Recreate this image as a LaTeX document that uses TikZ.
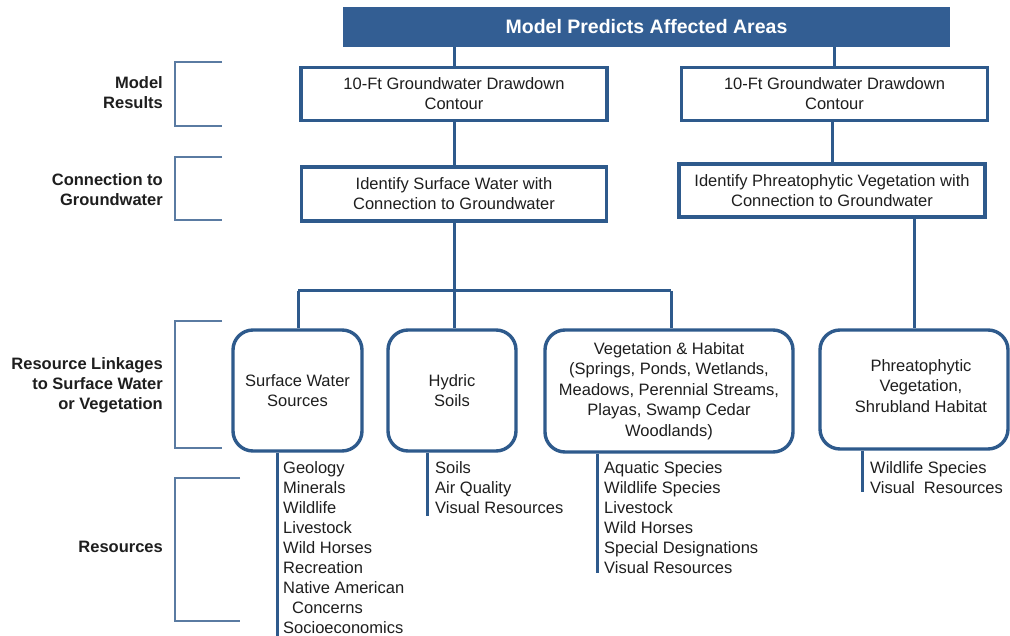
\documentclass[tikz,border=0pt]{standalone}
\usepackage{fontspec}
\setmainfont{Liberation Sans}
\definecolor{linec}{HTML}{2E5A8C}
\definecolor{bannerc}{HTML}{335E93}
\definecolor{brackc}{HTML}{5A7BA2}
\definecolor{txtc}{HTML}{1E1E1E}
\tikzset{
  conn/.style={draw=linec, line width=3pt},
  sqbox/.style={draw=linec, line width=3.4pt, fill=white, rectangle, inner sep=0pt, align=center,
    text=txtc, font=\fontsize{16.5}{20}\selectfont},
  rbox/.style={draw=linec, line width=3.4pt, fill=white, rectangle, rounded corners=20pt, inner sep=0pt,
    align=center, text=txtc, font=\fontsize{16.5}{20.5}\selectfont},
  bracketline/.style={draw=brackc, line width=1.8pt},
  sidelabel/.style={anchor=east, align=right, inner sep=0pt, text=txtc,
    font=\bfseries\fontsize{16.5}{20}\selectfont},
  listtext/.style={anchor=base west, align=left, inner sep=0pt, text=txtc,
    font=\fontsize{16.5}{20}\selectfont},
  boxtext/.style={align=center, inner sep=0pt, text=txtc, font=\fontsize{16.5}{20.5}\selectfont}
}
\begin{document}
\begin{tikzpicture}[x=1pt,y=-1pt]
\useasboundingbox (0,0) rectangle (1010,636);
\fill[white] (0,0) rectangle (1010,636);

% side brackets
\draw[bracketline] (222,62) -- (175,62) -- (175,126) -- (222,126);
\draw[bracketline] (222,157) -- (175,157) -- (175,220) -- (222,220);
\draw[bracketline] (222,321) -- (175,321) -- (175,448) -- (222,448);
\draw[bracketline] (240,478) -- (175,478) -- (175,621) -- (240,621);

\node[sidelabel] (lMR) at (163,93) {Model\\Results};
\node[sidelabel] (lCG) at (163,190) {Connection to\\Groundwater};
\node[sidelabel] (lRL) at (163,385) {Resource Linkages\\to Surface Water\\or Vegetation};
\node[sidelabel] (lRS) at (163,547) {Resources};

% banner
\node[fill=bannerc, inner sep=0pt, minimum width=607pt, minimum height=40pt,
      text=white, font=\bfseries\fontsize{19.5}{22}\selectfont] (ban) at (646.5,27) {Model Predicts Affected Areas};

% top boxes
\node[sqbox, minimum width=306pt, minimum height=53pt] (b1L) at (454,94) {10-Ft Groundwater Drawdown\\Contour};
\node[sqbox, minimum width=306pt, minimum height=53pt] (b1R) at (834.5,94) {10-Ft Groundwater Drawdown\\Contour};
\node[sqbox, minimum width=305pt, minimum height=54pt] (b2L) at (454,194) {Identify Surface Water with\\Connection to Groundwater};
\node[sqbox, minimum width=306pt, minimum height=53pt] (b2R) at (832,190.5) {Identify Phreatophytic Vegetation with\\Connection to Groundwater};

% rounded boxes
\node[rbox, minimum width=129pt, minimum height=121pt] (sw) at (297.5,390.5) {Surface Water\\Sources};
\node[rbox, minimum width=128pt, minimum height=121pt] (hy) at (452,390.5) {Hydric\\Soils};
\node[rbox, minimum width=248pt, minimum height=122pt] (veg) at (669,391) {Vegetation \& Habitat\\(Springs, Ponds, Wetlands,\\Meadows, Perennial Streams,\\Playas, Swamp Cedar\\Woodlands)};
\node[rbox, minimum width=188pt, minimum height=119pt] (ph) at (914,389.5) {};
\node[boxtext] (phT) at (921,386) {Phreatophytic\\Vegetation,\\Shrubland Habitat};

% connectors
\coordinate (busL) at (298,291);
\coordinate (busR) at (671,291);
\draw[conn] (ban.south -| b1L.north) -- (b1L.north);
\draw[conn] (ban.south -| b1R.north) -- (b1R.north);
\draw[conn] (b1L.south) -- (b2L.north);
\draw[conn] (b1R.south -| b2R.north) -- (b2R.north);
\draw[conn] (b2L.south) -- (b2L.south |- busL);
\draw[conn] (busL) -- (busR);
\draw[conn] (busL) -- (sw.north -| busL);
\draw[conn] (b2L.south |- busL) -- (hy.north -| b2L.south);
\draw[conn] (busR) -- (veg.north -| busR);
\draw[conn] (ph.north |- b2R.south) -- (ph.north);

% resource lists
\coordinate (swEnd) at (277,636);
\coordinate (hyEnd) at (427,516);
\coordinate (vgEnd) at (597,573);
\coordinate (phEnd) at (862,492);
\draw[conn] (sw.south -| swEnd) -- (swEnd);
\draw[conn] (hy.south -| hyEnd) -- (hyEnd);
\draw[conn] (veg.south -| vgEnd) -- (vgEnd);
\draw[conn] (ph.south -| phEnd) -- (phEnd);

% anchor base west = baseline of the last line
\node[listtext] (swList) at (283,633) {Geology\\Minerals\\Wildlife\\Livestock\\Wild Horses\\Recreation\\Native American\\\hspace*{9pt}Concerns\\Socioeconomics};
\node[listtext] (hyList) at (435,513) {Soils\\Air Quality\\Visual Resources};
\node[listtext] (vgList) at (604,573) {Aquatic Species\\Wildlife Species\\Livestock\\Wild Horses\\Special Designations\\Visual Resources};
\node[listtext] (phList) at (870,493) {Wildlife Species\\Visual~~Resources};
\end{tikzpicture}
\end{document}
